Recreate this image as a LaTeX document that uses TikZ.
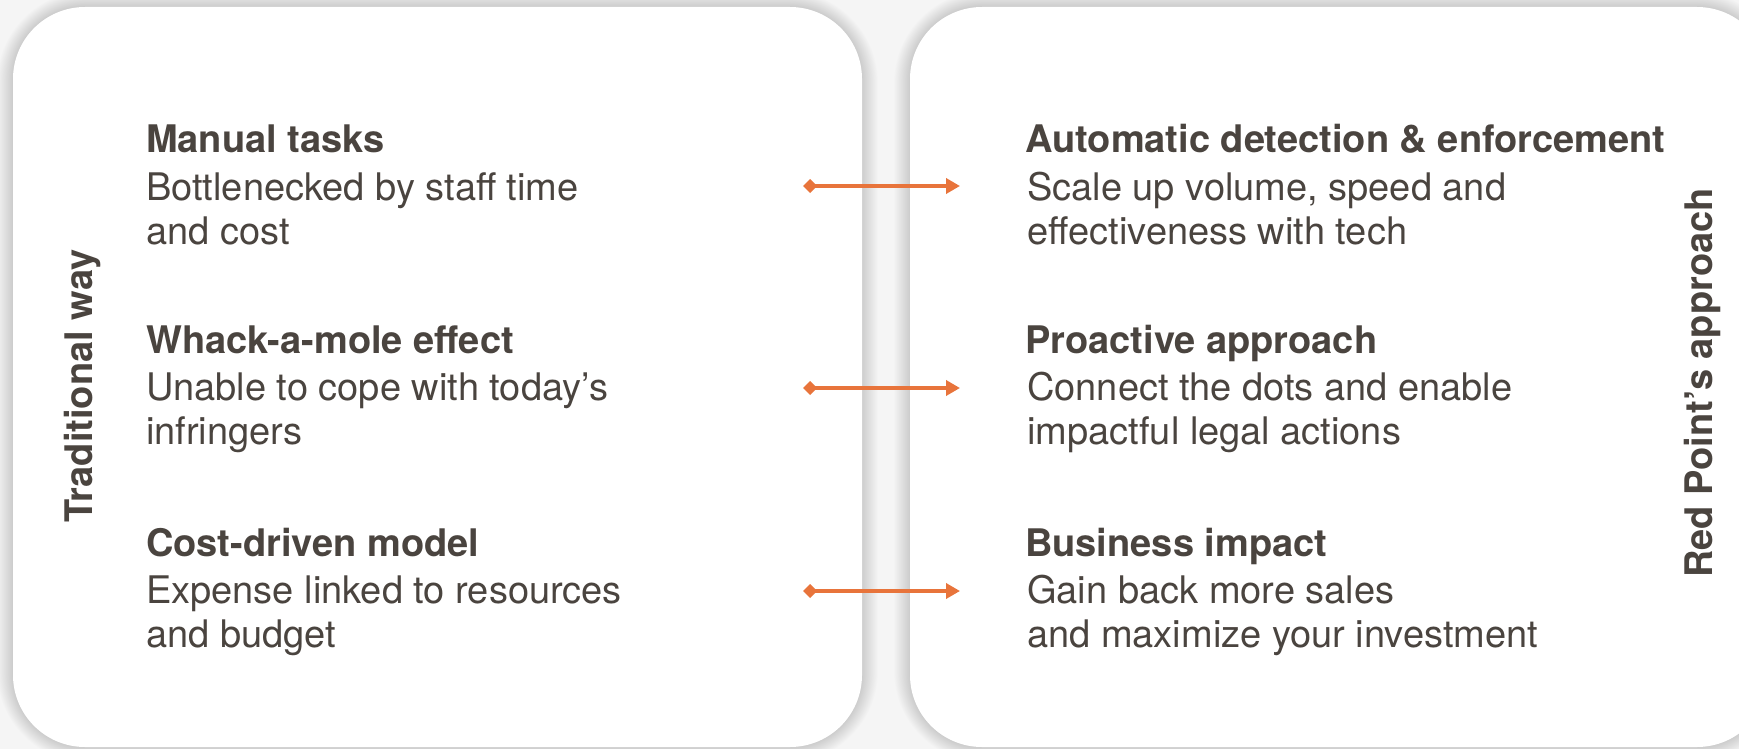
\documentclass[tikz,border=0pt]{standalone}
\usepackage{fontspec}
\setmainfont{TeX Gyre Heros}
\usetikzlibrary{arrows.meta}
\definecolor{txt}{HTML}{4A443F}
\definecolor{accent}{HTML}{E8743B}
\definecolor{bg}{HTML}{F5F5F5}
\begin{document}
\begin{tikzpicture}[x=1pt,y=-1pt,
  title/.style={anchor=base west, inner sep=0, text=txt, font=\fontsize{38}{47}\selectfont\bfseries},
  body/.style={anchor=base west, inner sep=0, text=txt, font=\fontsize{38}{44}\selectfont},
  side/.style={anchor=base, inner sep=0, text=txt, rotate=90, font=\fontsize{38}{47}\selectfont\bfseries},
  link/.style={accent, line width=4pt, {Turned Square[length=14pt,width=14pt]}-{Triangle[length=14pt,width=15pt]}},
  panel/.style={fill=white, rounded corners=72pt}
]
% background and frame
\fill[bg] (0,0) rectangle (1739,749);
\useasboundingbox (0,0) rectangle (1739,749);
% soft shadows
\foreach \i in {1,...,20}{
  \pgfmathsetmacro\rr{72+\i}
  \pgfmathsetmacro\ss{0.8*\i}
  \fill[black, opacity=0.009, rounded corners=\rr pt] (13-\ss,7-\ss) rectangle (862+\ss,747+\ss);
  \fill[black, opacity=0.009, rounded corners=\rr pt] (910-\ss,7-\ss) rectangle (1769+\ss,747+\ss);
}
% panels
\fill[panel] (13,7) rectangle (862,747);
\fill[panel] (910,7) rectangle (1769,747);

% side labels
\node[side] (trad) at (92,386) {Traditional way};
\node[side] (redp) at (1712,383) {Red Point’s approach};

% left column
\node[title] (l1t) at (146,153) {Manual tasks};
\node[body]  (l1a) at (146,200) {Bottlenecked by staff time};
\node[body]  (l1b) at (146,244) {and cost};
\node[title] (l2t) at (146,353) {Whack-a-mole effect};
\node[body]  (l2a) at (146,400) {Unable to cope with today’s};
\node[body]  (l2b) at (146,444) {infringers};
\node[title] (l3t) at (146,556) {Cost-driven model};
\node[body]  (l3a) at (146,603) {Expense linked to resources};
\node[body]  (l3b) at (146,647) {and budget};

% right column
\node[title] (r1t) at (1025,153) {Automatic detection \& enforcement};
\node[body]  (r1a) at (1027,200) {Scale up volume, speed and};
\node[body]  (r1b) at (1027,244) {effectiveness with tech};
\node[title] (r2t) at (1025,353) {Proactive approach};
\node[body]  (r2a) at (1027,400) {Connect the dots and enable};
\node[body]  (r2b) at (1027,444) {impactful legal actions};
\node[title] (r3t) at (1025,556) {Business impact};
\node[body]  (r3a) at (1027,603) {Gain back more sales};
\node[body]  (r3b) at (1027,647) {and maximize your investment};

% connectors
\coordinate (a1s) at (803,186); \coordinate (a1e) at (960,186);
\coordinate (a2s) at (803,388); \coordinate (a2e) at (960,388);
\coordinate (a3s) at (803,591); \coordinate (a3e) at (960,591);
\draw[link] (a1s) -- (a1e);
\draw[link] (a2s) -- (a2e);
\draw[link] (a3s) -- (a3e);
\end{tikzpicture}
\end{document}
